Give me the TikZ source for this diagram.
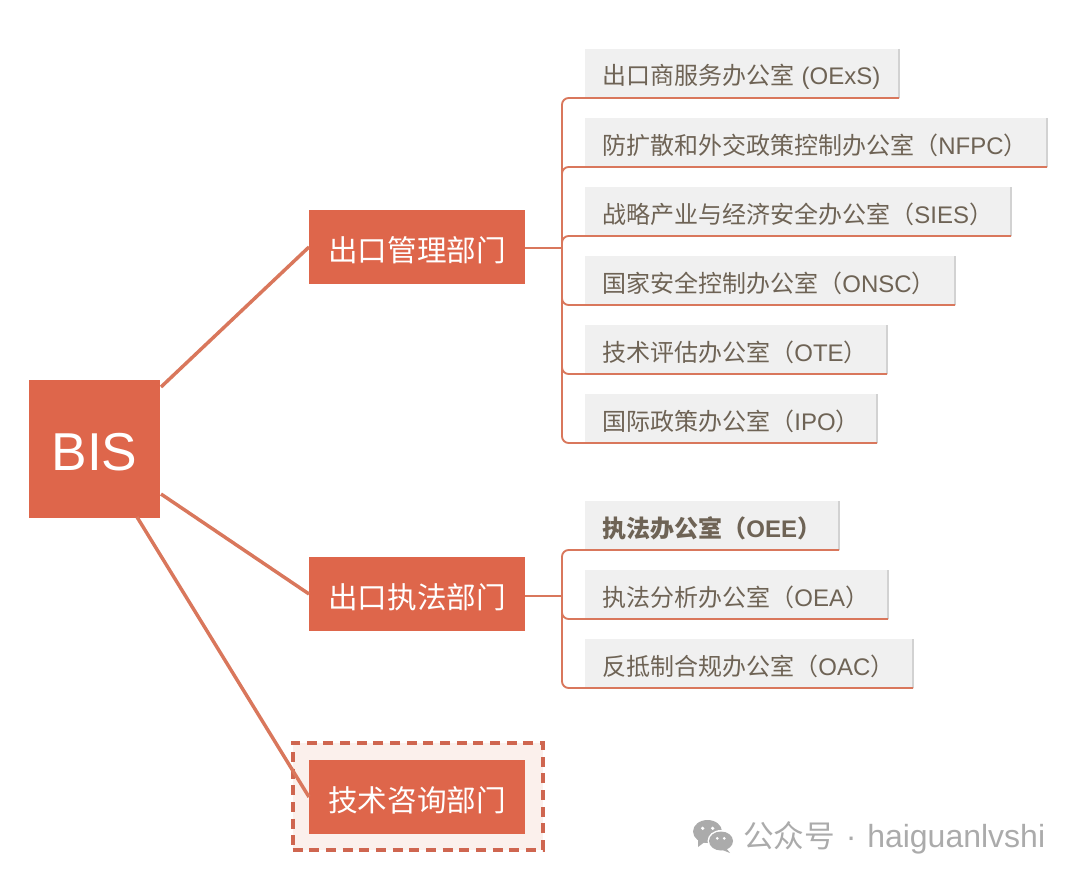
\documentclass[tikz,border=0pt]{standalone}
\usepackage{fontspec}
\setmainfont{Noto Sans CJK SC}
\newfontfamily\lat{Liberation Sans}
\newcommand{\lt}[1]{{\lat #1}}
\newcommand{\low}[1]{\raisebox{-2.2pt}[\height][\depth]{#1}}
\definecolor{brick}{HTML}{DE664B}
\definecolor{lineor}{HTML}{D9775C}
\definecolor{leafgray}{HTML}{F0F0F0}
\definecolor{leafedge}{HTML}{D2D2D2}
\definecolor{leaftext}{HTML}{6E6355}
\definecolor{halofill}{HTML}{FBF0EC}
\definecolor{dashred}{HTML}{CF6650}
\definecolor{wm}{HTML}{ABABAB}
\tikzset{
  px/.style={x=0.75pt,y=-0.75pt},
  dept/.style={fill=brick,text=white,anchor=north west,minimum width=162pt,minimum height=55.5pt,inner sep=0pt,outer sep=0pt,font=\fontsize{22.2}{26}\selectfont},
  leafbox/.style={fill=leafgray,text=leaftext,anchor=north west,minimum height=36.75pt,inner xsep=13pt,inner ysep=0pt,outer sep=0pt,align=left,font=\fontsize{18}{21}\selectfont},
  bigline/.style={draw=lineor,line width=2.6pt},
  branch/.style={draw=lineor,line width=1.4pt,rounded corners=5pt},
  stem/.style={draw=lineor,line width=1.6pt},
  edgeline/.style={draw=leafedge,line width=1pt},
}
\begin{document}
\begin{tikzpicture}[px]
\useasboundingbox (0,0) rectangle (1080,881);
% root
\node[fill=brick,text=white,anchor=north west,minimum width=98.25pt,minimum height=103.5pt,inner sep=0pt,outer sep=0pt,font=\fontsize{40}{46}\selectfont] (bis) at (29,380) {\raisebox{-2.5pt}[\height][\depth]{\lat BIS}};
% departments
\node[dept] (d1) at (309,210) {\low{出口管理部门}};
\node[dept] (d2) at (309,557) {\low{出口执法部门}};
\node[fill=halofill,draw=dashred,line width=3pt,dash pattern=on 7.5pt off 5pt,anchor=north west,outer sep=0pt,minimum width=187.5pt,minimum height=80.5pt,inner sep=0pt] (halobox) at (292.7,742.7) {};
\node[dept] (d3) at (309,760) {\low{技术咨询部门}};
% root connectors
\coordinate (r1) at (161,387);
\coordinate (r2) at (161,494);
\coordinate (r3) at (137,517);
\draw[bigline] (r1) -- (d1.west);
\draw[bigline] (r2) -- (d2.west);
\draw[bigline] (r3) -- (d3.west);
% leaves
\node[leafbox,text width=209.5pt] (a1) at (585,49) {\low{出口商服务办公室\hspace{5.5pt}\lt{(OExS)}}};
\node[leafbox,text width=320.5pt] (a2) at (585,118) {\low{防扩散和外交政策控制办公室（\lt{NFPC}）}};
\node[leafbox,text width=293.5pt] (a3) at (585,187) {\low{战略产业与经济安全办公室（\lt{SIES}）}};
\node[leafbox,text width=251.5pt] (a4) at (585,256) {\low{国家安全控制办公室（\lt{ONSC}）}};
\node[leafbox,text width=200.5pt] (a5) at (585,325) {\low{技术评估办公室（\lt{OTE}）}};
\node[leafbox,text width=193pt] (a6) at (585,394) {\low{国际政策办公室（\lt{IPO}）}};
\node[leafbox,text width=164.5pt,font=\fontsize{18}{21}\selectfont\bfseries] (b1) at (585,501) {\low{执法办公室（\lt{OEE}）}};
\node[leafbox,text width=201.25pt] (b2) at (585,570) {\low{执法分析办公室（\lt{OEA}）}};
\node[leafbox,text width=220pt] (b3) at (585,639) {\low{反抵制合规办公室（\lt{OAC}）}};
\foreach \n in {a1,a2,a3,a4,a5,a6,b1,b2,b3}{
  \draw[edgeline] (\n.north east) -- (\n.south east);
}
% brackets
\path (d1.east) ++(37,1) coordinate (ta);
\path (d2.east) ++(37,2) coordinate (tb);
\draw[stem] (ta -| d1.east) -- (ta);
\draw[stem] (tb -| d2.east) -- (tb);
\foreach \n in {a1,a2,a3,a4,a5,a6}{
  \draw[branch] (ta) |- (\n.south west) -- (\n.south east);
}
\foreach \n in {b1,b2,b3}{
  \draw[branch] (tb) |- (\n.south west) -- (\n.south east);
}
% watermark
\fill[wm] (707.5,831.5) ellipse (14.5 and 11.5);
\fill[wm] (698,840) -- (698,847) -- (706,841) -- cycle;
\fill[white] (721,841) ellipse (13.5 and 11);
\fill[wm] (721,841) ellipse (12 and 9.5);
\fill[wm] (726,848) -- (730,853) -- (720,849) -- cycle;
\fill[white] (702.7,828.3) circle (1.8) (712.7,828.3) circle (1.8) (717.3,838.3) circle (1.5) (724.3,838.3) circle (1.5);
\node[text=wm,anchor=west,inner sep=0pt,font=\fontsize{23}{26}\selectfont] (wmcn) at (743,838) {公众号\hspace{8pt}\lt{\fontsize{24}{26}\selectfont ·\hspace{8pt}haiguanlvshi}};
\end{tikzpicture}
\end{document}
